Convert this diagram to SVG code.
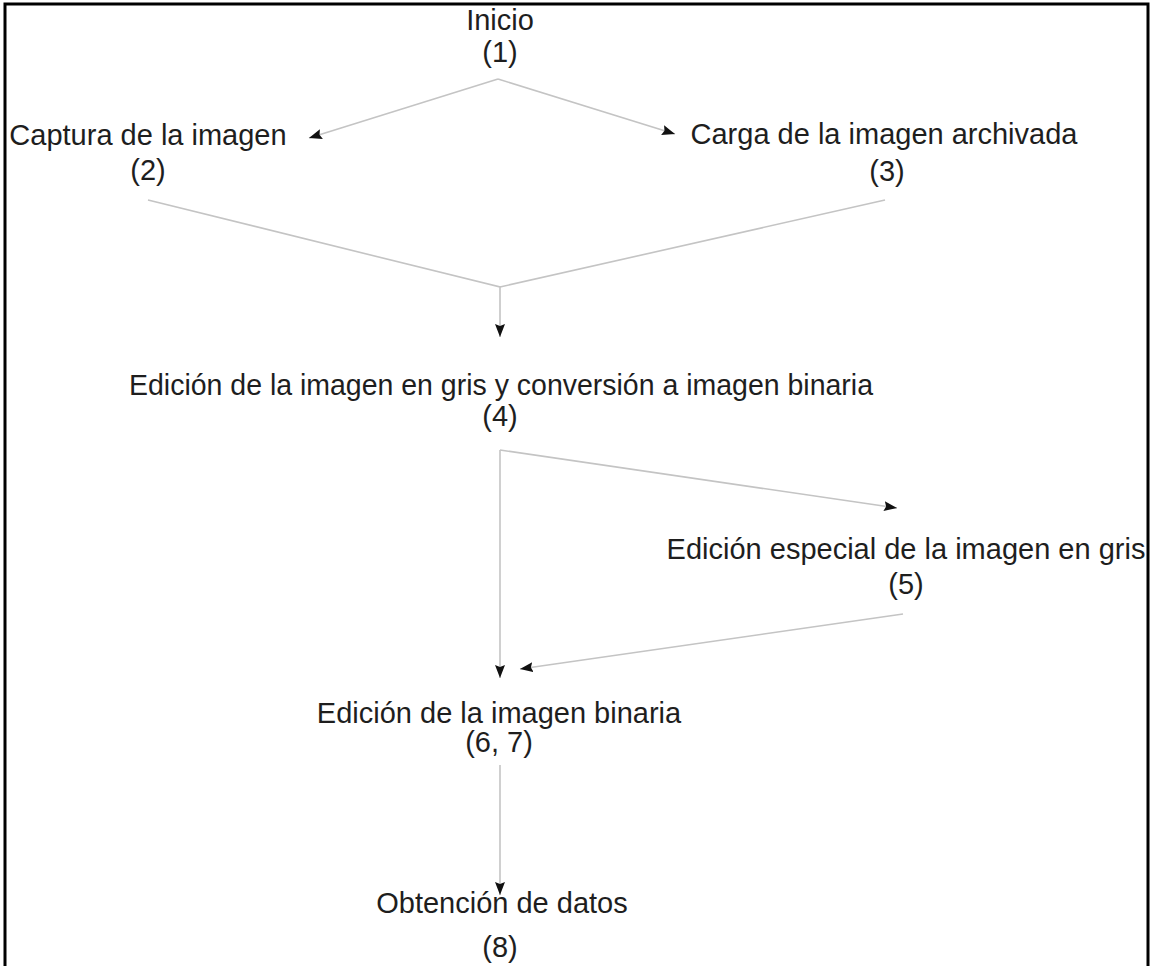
<svg xmlns="http://www.w3.org/2000/svg" width="1158" height="966" viewBox="0 0 1158 966">
  <style>
    .t { font-family: "Liberation Sans", Arial, sans-serif; font-size: 29px; fill: #1e1e1e; text-anchor: middle; }
    .c { fill: none; stroke: #c4c4c4; stroke-width: 1.6; marker-end: url(#ah); }
    .cn { fill: none; stroke: #c4c4c4; stroke-width: 1.6; }
  </style>
  <defs>
    <marker id="ah" viewBox="0 0 13 10" refX="13" refY="5" markerWidth="13" markerHeight="10" markerUnits="userSpaceOnUse" orient="auto">
      <path d="M0,0 L13,5 L0,10 L2,5 z" fill="#111"/>
    </marker>
  </defs>
  <rect x="0" y="0" width="1158" height="966" fill="#ffffff"/>

  <g id="connectors">
    <path class="c" d="M498,79 L309,138"/>
    <path class="c" d="M498,79 L675,134"/>
    <path class="cn" d="M885,200 L500,287"/>
    <path class="c" d="M148,200 L500,287 L500,337"/>
    <path class="c" d="M500,450 L500,678"/>
    <path class="c" d="M500,450 L897,508"/>
    <path class="c" d="M903,614 L520,669"/>
    <path class="c" d="M500,765 L500,895"/>
  </g>

  <g id="n1">
    <text class="t" x="500" y="30">Inicio</text>
    <text class="t" x="500" y="62">(1)</text>
  </g>
  <g id="n2">
    <text class="t" x="148" y="145">Captura de la imagen</text>
    <text class="t" x="148" y="180">(2)</text>
  </g>
  <g id="n3">
    <text class="t" x="884" y="144">Carga de la imagen archivada</text>
    <text class="t" x="887" y="181">(3)</text>
  </g>
  <g id="n4">
    <text class="t" x="501" y="395" textLength="744" lengthAdjust="spacingAndGlyphs">Edición de la imagen en gris y conversión a imagen binaria</text>
    <text class="t" x="500" y="426">(4)</text>
  </g>
  <g id="n5">
    <text class="t" x="906" y="559">Edición especial de la imagen en gris</text>
    <text class="t" x="906" y="594">(5)</text>
  </g>
  <g id="n6">
    <text class="t" x="499" y="723">Edición de la imagen binaria</text>
    <text class="t" x="499" y="752">(6, 7)</text>
  </g>
  <g id="n8">
    <text class="t" x="502" y="913">Obtención de datos</text>
    <text class="t" x="500" y="957">(8)</text>
  </g>

  <g id="frame">
    <rect x="1149" y="0" width="9" height="966" fill="#ffffff"/>
    <path d="M5,975 L5,4 L1148,4 L1148,975" fill="none" stroke="#000" stroke-width="3"/>
  </g>
</svg>
